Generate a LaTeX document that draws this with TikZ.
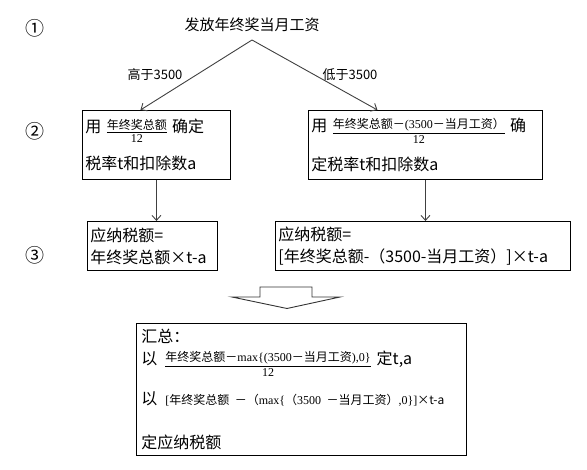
\documentclass[tikz,border=0pt]{standalone}
\usepackage{fontspec}
\setmainfont{Noto Sans CJK SC}
\newfontfamily\serf{Liberation Serif}
\usetikzlibrary{arrows.meta,calc}
\newcommand\fr[2]{\raisebox{3pt}{\vtop{\halign{\hfil##\hfil\cr #1\cr\noalign{\kern1.5pt\hrule height0.6pt\kern2pt}#2\cr}}}}
\newcommand\sm{\fontsize{12}{13}\selectfont}
\tikzset{
  box/.style={draw=black, line width=0.9pt, inner sep=3pt, align=left, anchor=north west,
    font=\fontsize{16}{22}\selectfont},
  arr/.style={draw=black!75, line width=0.9pt, -{Straight Barb[length=5pt,width=9pt]}},
  lbl/.style={font=\fontsize{13}{15}\selectfont, inner sep=0pt},
  num/.style={font=\fontsize{19}{20}\selectfont, inner sep=0pt},
}
\begin{document}
\begin{tikzpicture}[x=1pt,y=-1pt]
\useasboundingbox (0,0) rectangle (587,470);
\node[num] (n1) at (35,28) {①};
\node[num] (n2) at (35,131) {②};
\node[num] (n3) at (35,255) {③};
\node[font=\fontsize{15}{17}\selectfont, inner sep=0pt] (top) at (252,25) {发放年终奖当月工资};
\coordinate (apex) at (252,40);
\node[box, minimum width=148pt, minimum height=69pt, text width=142pt] (b1) at (82,110)
  {用 \fr{\sm 年终奖总额}{\sm\serf 12} 确定\\[12pt]税率t和扣除数a};
\node[box, minimum width=234pt, minimum height=69pt, text width=228pt] (b2) at (308,110)
  {用 \fr{\sm 年终奖总额－{\serf(3500}－当月工资）}{\sm\serf 12} 确\\[12pt]定税率t和扣除数a};
\node[box, minimum width=130pt, minimum height=49pt, text width=124pt] (b3) at (87,221)
  {应纳税额=\\年终奖总额×t-a};
\node[box, minimum width=295pt, minimum height=49pt, text width=289pt] (b4) at (275,221)
  {应纳税额=\\{[}年终奖总额-（3500-当月工资）]×t-a};
\node[box, minimum width=330pt, minimum height=132pt, text width=320pt, inner sep=5pt] (b5) at (136,323)
  {汇总：\\[0pt]以\hspace{8pt}\fr{\sm 年终奖总额－{\serf max\{(3500}－当月工资{\serf ),0\}}}{\sm\serf 12}\hspace{6pt}定t,a\\[14pt]
   以\hspace{8pt}{\sm{\serf[}年终奖总额 －（{\serf max\{}（{\serf 3500} －当月工资）{\serf ,0\}]}×t-a}\\[22pt]
   定应纳税额};
\draw[arr] (apex) -- ($(b1.north)+(-16,0)$);
\draw[arr] (apex) -- ($(b2.north)+(-48,0)$);
\node[lbl] (l1) at (155,75) {高于3500};
\node[lbl] (l2) at (350,75) {低于3500};
\draw[arr] (b1.south) -- (b1.south |- b3.north);
\draw[arr] (b2.south) -- (b2.south |- b4.north);
\draw[line width=0.9pt, draw=black!80] (260,287) -- (312,287) -- (312,297) -- (340,297) -- (287,308.5) -- (232,297) -- (260,297) -- cycle;
\end{tikzpicture}
\end{document}
